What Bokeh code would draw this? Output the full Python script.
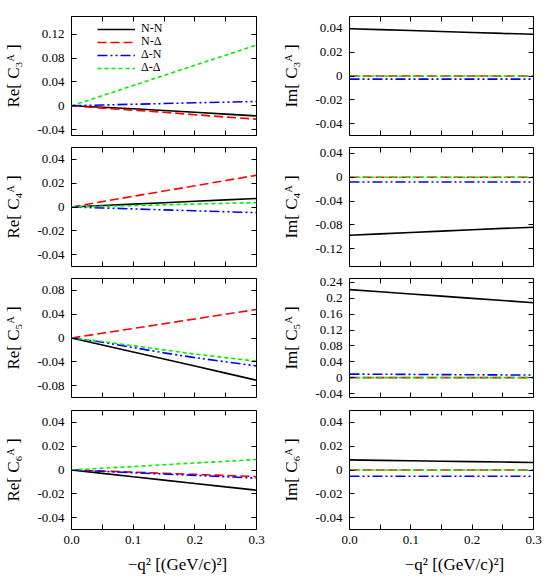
from bokeh.plotting import figure
from bokeh.models import (LinearAxis, FixedTicker, Range1d, Label, Legend, LegendItem)
from bokeh.layouts import column, row
from bokeh.embed import file_html
from bokeh.resources import INLINE

FONT = "Liberation Serif"

# ---------------- data ----------------
x = [0.0, 0.05, 0.10, 0.15, 0.20, 0.25, 0.30]

series_names = ["N-N", "N-Δ", "Δ-N", "Δ-Δ"]

re_c3_nn = [0.0, -0.0025, -0.005, -0.008, -0.011, -0.014, -0.017]
re_c3_nd = [0.0, -0.004, -0.0075, -0.011, -0.015, -0.019, -0.0225]
re_c3_dn = [0.0, 0.0012, 0.0025, 0.0037, 0.005, 0.006, 0.0072]
re_c3_dd = [0.0, 0.017, 0.034, 0.051, 0.068, 0.085, 0.102]

im_c3_nn = [0.0397, 0.039, 0.0382, 0.0374, 0.0366, 0.0358, 0.0351]
im_c3_nd = [0.0, 0.0, 0.0, 0.0, 0.0, 0.0, 0.0]
im_c3_dn = [-0.0026, -0.0026, -0.0026, -0.0026, -0.0026, -0.0026, -0.0026]
im_c3_dd = [0.0, 0.0, 0.0, 0.0, 0.0, 0.0, 0.0]

re_c4_nn = [0.0, 0.0012, 0.0024, 0.0036, 0.0048, 0.006, 0.0071]
re_c4_nd = [0.0, 0.0045, 0.009, 0.0134, 0.0178, 0.0222, 0.0267]
re_c4_dn = [0.0, -0.0008, -0.0016, -0.0024, -0.0032, -0.004, -0.0047]
re_c4_dd = [0.0, 0.0006, 0.0012, 0.0018, 0.0025, 0.0031, 0.0037]

im_c4_nn = [-0.0975, -0.0952, -0.0929, -0.0906, -0.0883, -0.086, -0.084]
im_c4_nd = [0.0, 0.0, 0.0, 0.0, 0.0, 0.0, 0.0]
im_c4_dn = [-0.008, -0.008, -0.008, -0.008, -0.008, -0.008, -0.008]
im_c4_dd = [0.0, 0.0, 0.0, 0.0, 0.0, 0.0, 0.0]

re_c5_nn = [0.0, -0.0118, -0.0236, -0.0354, -0.0472, -0.059, -0.0709]
re_c5_nd = [0.0, 0.008, 0.016, 0.024, 0.032, 0.040, 0.048]
re_c5_dn = [0.0, -0.007, -0.016, -0.025, -0.033, -0.040, -0.047]
re_c5_dd = [0.0, -0.006, -0.013, -0.020, -0.027, -0.033, -0.039]

im_c5_nn = [0.222, 0.2165, 0.211, 0.2055, 0.2, 0.1945, 0.189]
im_c5_nd = [0.0, 0.0, 0.0, 0.0, 0.0, 0.0, 0.0]
im_c5_dn = [0.009, 0.0086, 0.0082, 0.0077, 0.0073, 0.0069, 0.0065]
im_c5_dd = [0.0, 0.0, 0.0, 0.0, 0.0, 0.0, 0.0]

re_c6_nn = [0.0, -0.0028, -0.0057, -0.0085, -0.0113, -0.0142, -0.017]
re_c6_nd = [0.0, -0.0009, -0.0018, -0.0028, -0.0037, -0.0046, -0.0055]
re_c6_dn = [0.0, -0.0011, -0.0023, -0.0034, -0.0045, -0.0057, -0.0068]
re_c6_dd = [0.0, 0.0015, 0.0029, 0.0044, 0.0059, 0.0073, 0.0088]

im_c6_nn = [0.0085, 0.0081, 0.0078, 0.0074, 0.007, 0.0067, 0.0063]
im_c6_nd = [0.0, 0.0, 0.0, 0.0, 0.0, 0.0, 0.0]
im_c6_dn = [-0.0052, -0.0052, -0.0052, -0.0052, -0.0052, -0.0052, -0.0052]
im_c6_dd = [0.0, 0.0, 0.0, 0.0, 0.0, 0.0, 0.0]

x_ticks = [0.0, 0.1, 0.2, 0.3]
x_minor_ticks = [0.05, 0.15, 0.25]
x_tick_labels = ["0.0", "0.1", "0.2", "0.3"]

yt_re_c3 = [-0.04, 0.0, 0.04, 0.08, 0.12]
yl_re_c3 = ["-0.04", "0", "0.04", "0.08", "0.12"]
yt_small = [-0.04, -0.02, 0.0, 0.02, 0.04]
yl_small = ["-0.04", "-0.02", "0", "0.02", "0.04"]
yt_im_c4 = [-0.12, -0.08, -0.04, 0.0, 0.04]
yl_im_c4 = ["-0.12", "-0.08", "-0.04", "0", "0.04"]
yt_re_c5 = [-0.08, -0.04, 0.0, 0.04, 0.08]
yl_re_c5 = ["-0.08", "-0.04", "0", "0.04", "0.08"]
yt_im_c5 = [-0.04, 0.0, 0.04, 0.08, 0.12, 0.16, 0.2, 0.24]
yl_im_c5 = ["-0.04", "0", "0.04", "0.08", "0.12", "0.16", "0.2", "0.24"]

x_label = "−q² [(GeV/c)²]"
subscripts = {"3": "₃", "4": "₄", "5": "₅", "6": "₆"}

# panels: (part, index, series, y range, y ticks, y tick labels)
panels = [
    [("Re", "3", [re_c3_nn, re_c3_nd, re_c3_dn, re_c3_dd], (-0.05, 0.15), yt_re_c3, yl_re_c3),
     ("Im", "3", [im_c3_nn, im_c3_nd, im_c3_dn, im_c3_dd], (-0.05, 0.05), yt_small, yl_small)],
    [("Re", "4", [re_c4_nn, re_c4_nd, re_c4_dn, re_c4_dd], (-0.05, 0.05), yt_small, yl_small),
     ("Im", "4", [im_c4_nn, im_c4_nd, im_c4_dn, im_c4_dd], (-0.15, 0.05), yt_im_c4, yl_im_c4)],
    [("Re", "5", [re_c5_nn, re_c5_nd, re_c5_dn, re_c5_dd], (-0.10, 0.10), yt_re_c5, yl_re_c5),
     ("Im", "5", [im_c5_nn, im_c5_nd, im_c5_dn, im_c5_dd], (-0.05, 0.25), yt_im_c5, yl_im_c5)],
    [("Re", "6", [re_c6_nn, re_c6_nd, re_c6_dn, re_c6_dd], (-0.05, 0.05), yt_small, yl_small),
     ("Im", "6", [im_c6_nn, im_c6_nd, im_c6_dn, im_c6_dd], (-0.05, 0.05), yt_small, yl_small)],
]

line_colors = ["black", "#ff0000", "#0000ff", "#00ee00"]
line_dashes = ["solid", "9 4", "10 3 2 3 2 3", "4 3"]
line_widths = [1.6, 1.6, 1.6, 1.6]

# ---------------- layout constants ----------------
FRAME_H = 119
tops = [16, 6, 6, 7]
bottoms = [6, 6, 6, 50]
TICK_FS = "13px"
LABEL_FS = "17px"
X0, X1 = 0.0, 0.3
legend_centers = [105, 92, 79, 66]   # px above frame bottom


def make_panel(c, r, spec):
    part, idx, ys, yr, yt, ytl = spec
    left = (c == 0)
    fw = 185 if left else 184
    p = figure(
        frame_width=fw, frame_height=FRAME_H,
        x_range=Range1d(X0, X1), y_range=Range1d(*yr),
        x_axis_type=None, y_axis_type=None,
        output_backend="svg", toolbar_location=None,
        min_border_left=71 if left else 73,
        min_border_right=20 if left else 10,
        min_border_top=tops[r], min_border_bottom=bottoms[r],
    )
    p.outline_line_color = "black"
    p.outline_line_width = 1
    p.background_fill_color = "white"
    p.border_fill_color = "white"

    # x axes (bottom with labels on last row, top mirrored)
    for loc in ("below", "above"):
        ax = LinearAxis(ticker=FixedTicker(ticks=x_ticks, minor_ticks=x_minor_ticks),
                        axis_line_color=None,
                        major_tick_in=5, major_tick_out=0,
                        minor_tick_in=5, minor_tick_out=0,
                        major_tick_line_color="black", minor_tick_line_color="black")
        ax.major_label_text_font = FONT
        ax.major_label_text_font_size = TICK_FS
        ax.major_label_text_color = "black"
        if loc == "below" and r == 3:
            ax.major_label_overrides = dict(zip(x_ticks, x_tick_labels))
            ax.major_label_standoff = 6
        else:
            ax.major_label_overrides = {t: "" for t in x_ticks}
            ax.major_label_standoff = 0
        p.add_layout(ax, loc)

    # y axes (left labelled, right mirrored)
    for loc in ("left", "right"):
        ax = LinearAxis(ticker=FixedTicker(ticks=yt, minor_ticks=[]),
                        axis_line_color=None,
                        major_tick_in=5, major_tick_out=0,
                        minor_tick_in=0, minor_tick_out=0,
                        major_tick_line_color="black")
        ax.major_label_text_font = FONT
        ax.major_label_text_font_size = TICK_FS
        ax.major_label_text_color = "black"
        if loc == "left":
            ax.major_label_overrides = dict(zip(yt, ytl))
            ax.major_label_standoff = 7
            ax.axis_label = f"{part}[ C{subscripts[idx]}ᴬ ]"
            ax.axis_label_text_font = FONT
            ax.axis_label_text_font_size = LABEL_FS
            ax.axis_label_text_font_style = "normal"
            ax.axis_label_text_color = "black"
            ax.axis_label_standoff = 11
        else:
            ax.major_label_overrides = {t: "" for t in yt}
            ax.major_label_standoff = 0
        p.add_layout(ax, loc)

    renderers = []
    for k in range(4):
        rr = p.line(x, ys[k], line_color=line_colors[k], line_dash=line_dashes[k],
                    line_width=line_widths[k])
        renderers.append(rr)

    if r == 0 and c == 0:
        for k in range(4):
            lg = Legend(items=[LegendItem(label=series_names[k], renderers=[renderers[k]])],
                        location=(26, legend_centers[k] - 6), orientation="vertical",
                        border_line_color=None, background_fill_alpha=0,
                        padding=0, margin=0, spacing=0,
                        glyph_width=38, glyph_height=12, label_height=12,
                        label_standoff=6, label_text_font=FONT,
                        label_text_font_size="12px", label_text_color="black")
            p.add_layout(lg)

    if r == 3:
        p.add_layout(Label(x=106 if left else 105, y=1, x_units="screen", y_units="screen",
                           text=x_label, text_align="center", text_baseline="middle",
                           text_font=FONT, text_font_size=LABEL_FS, text_color="black"),
                     "below")
    return p


rows = []
for r, pair in enumerate(panels):
    figs = [make_panel(c, r, spec) for c, spec in enumerate(pair)]
    rows.append(row(*figs, spacing=0))
layout = column(*rows, spacing=0)

open("out.html", "w").write(file_html(layout, INLINE))
